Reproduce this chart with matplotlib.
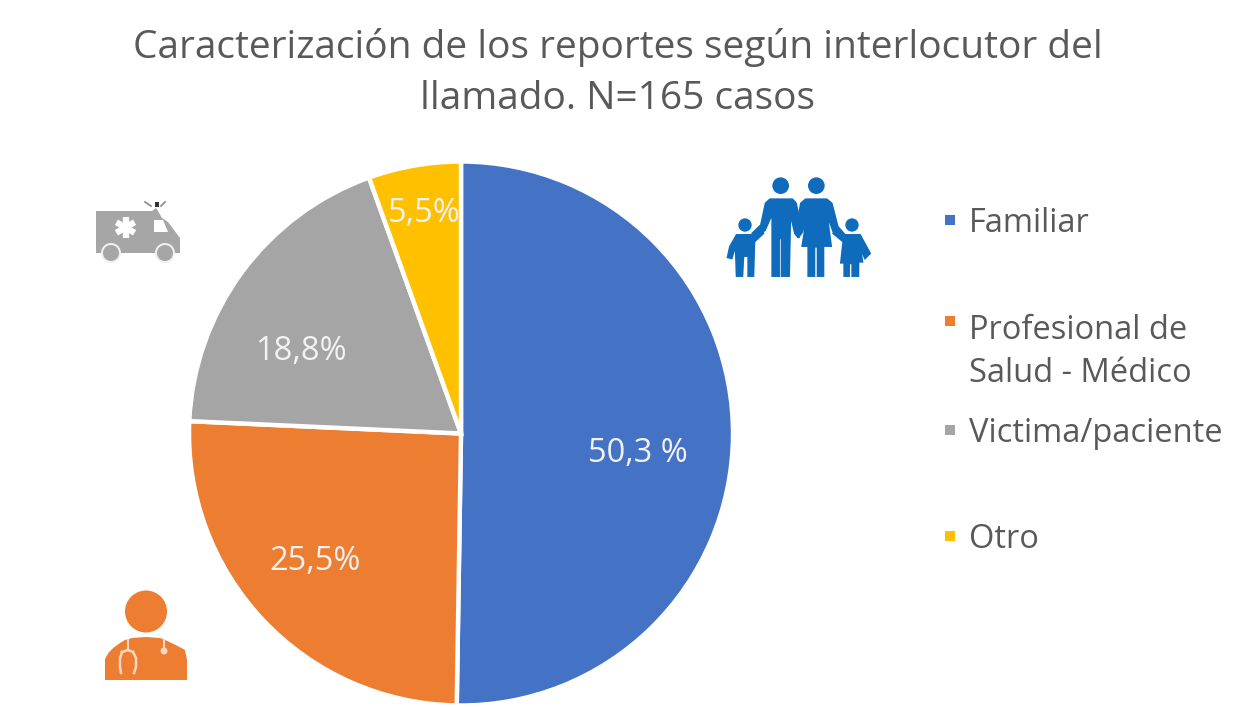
import matplotlib
matplotlib.use("Agg")
import matplotlib.pyplot as plt
from matplotlib.patches import Polygon, Circle, PathPatch, Rectangle
from matplotlib.path import Path

categories = ["Familiar", "Profesional de\nSalud - Médico", "Victima/paciente", "Otro"]
values = [50.3, 25.5, 18.8, 5.5]
value_labels = ["50,3 %", "25,5%", "18,8%", "5,5%"]
colors = ["#4472C4", "#ED7D31", "#A5A5A5", "#FFC000"]
title = "Caracterización de los reportes según interlocutor del\nllamado. N=165 casos"

W, H = 1236, 707
plt.rcParams["font.family"] = ["Open Sans", "DejaVu Sans"]
fig = plt.figure(figsize=(W / 100, H / 100), dpi=100, facecolor="white")

cx, cy, R = 461, 433.5, 272
pie_ax = fig.add_axes([(cx - R) / W, (H - cy - R) / H, 2 * R / W, 2 * R / H])
pie_ax.pie(values, colors=colors, startangle=90, counterclock=False, radius=1,
           wedgeprops=dict(edgecolor="white", linewidth=3.2))
pie_ax.set_xlim(-1, 1)
pie_ax.set_ylim(-1, 1)
pie_ax.set_aspect("equal")
pie_ax.axis("off")

ov = fig.add_axes([0, 0, 1, 1], facecolor="none")
ov.set_xlim(0, W)
ov.set_ylim(H, 0)
ov.axis("off")

GREY = "#595959"
ov.text(618, 73, title, ha="center", va="center", fontsize=28, color=GREY, linespacing=1.42)

label_pos = [(638, 454), (315, 562), (301, 351), (424, 214)]
for txt, (x, y) in zip(value_labels, label_pos):
    ov.text(x, y, txt, ha="center", va="center", fontsize=23.5, color="#F2F2F2")

legend_y = [223, 352, 433, 539]
for cat, col, y in zip(categories, colors, legend_y):
    off = 31 if "\n" in cat else 3
    ov.add_patch(Rectangle((945, y - off - 5), 10, 10, color=col, lw=0))
    ov.text(969, y, cat, ha="left", va="center", fontsize=23.5, color=GREY, linespacing=1.4)

# --- family icon ---
BLUE = "#0F6CBD"
def Z(pts, ox=715, oy=170):
    return [(ox + x / 3, oy + y / 3) for x, y in pts]
man = [(165, 88), (232, 88), (243, 100), (258, 175), (250, 203), (240, 190), (226, 130), (222, 318), (200, 318),
       (200, 205), (192, 205), (192, 318), (172, 318), (172, 130), (150, 180), (120, 205), (112, 190), (138, 165), (152, 100)]
woman = [(272, 88), (335, 88), (350, 100), (368, 170), (390, 195), (385, 208), (355, 185), (335, 130), (348, 228),
         (325, 228), (325, 318), (308, 318), (308, 230), (298, 230), (298, 318), (280, 318), (280, 228), (262, 228),
         (278, 130), (262, 185), (250, 203), (245, 170), (258, 100)]
kid1 = [(65, 195), (115, 195), (140, 180), (145, 190), (118, 215), (115, 318), (100, 318), (100, 258), (85, 258),
        (82, 318), (65, 318), (62, 225), (50, 265), (38, 262), (45, 230)]
kid2 = [(385, 195), (435, 195), (465, 250), (450, 265), (435, 230), (442, 275), (430, 275), (430, 318), (412, 318),
        (412, 280), (402, 280), (402, 318), (388, 318), (388, 278), (378, 278), (385, 215), (355, 190), (365, 180)]
for poly in (man, woman, kid1, kid2):
    ov.add_patch(Polygon(Z(poly), closed=True, facecolor=BLUE, edgecolor=BLUE, lw=1.4))
for (hx, hy, r) in [(197, 47, 25), (304, 47, 25), (90, 165, 20), (411, 165, 20)]:
    ov.add_patch(Circle((715 + hx / 3, 170 + hy / 3), r / 3, color=BLUE, lw=0))

# --- ambulance icon ---
AG = "#A6A6A6"
ov.add_patch(Polygon([(96, 211), (152, 211), (156, 208), (158, 211), (162, 218), (168, 222), (180, 238), (180, 253), (96, 253)],
                     closed=True, color=AG, lw=0))
ov.add_patch(Polygon([(154, 220), (163, 220), (168, 232), (154, 232)], closed=True, color="white", lw=0))
for i in range(3):
    ang = i * 60
    ov.plot([125.5, 125.5], [217, 238], color="white", lw=4.5, solid_capstyle="butt",
            transform=matplotlib.transforms.Affine2D().rotate_deg_around(125.5, 227.5, ang) + ov.transData)
for wx in (111, 165):
    ov.add_patch(Circle((wx, 253), 10, color="#F0F0F0", lw=0))
    ov.add_patch(Circle((wx, 253), 8, color=AG, lw=0))
ov.add_patch(Rectangle((155, 202), 3.5, 5, color="#333333", lw=0))
ov.plot([145, 151], [202, 206], color="#888888", lw=1.2)
ov.plot([165, 161], [202, 206], color="#888888", lw=1.2)

# --- doctor icon ---
OR = "#ED7D31"
ov.add_patch(Circle((146, 611.5), 21, color=OR, lw=0))
verts = [(105, 680), (105, 660), (107, 650), (125, 640), (132, 638), (146, 637), (160, 638), (167, 640),
         (185, 650), (187, 660), (187, 680), (105, 680)]
codes = [Path.MOVETO, Path.LINETO, Path.CURVE3, Path.CURVE3, Path.LINETO, Path.LINETO, Path.LINETO,
         Path.CURVE3, Path.CURVE3, Path.LINETO, Path.LINETO, Path.CLOSEPOLY]
ov.add_patch(PathPatch(Path(verts, codes), color=OR, lw=0))
LIGHT = "#F9D9C3"
ov.plot([128, 128], [640, 650], color=LIGHT, lw=1.5)
ov.plot([164, 164], [640, 648], color=LIGHT, lw=1.5)
ov.add_patch(Circle((164, 651), 3.5, color=LIGHT, lw=0))
ov.plot([121, 120, 120, 122], [673, 667, 658, 652], color=LIGHT, lw=1.8)
ov.plot([134, 136, 136, 133], [673, 667, 658, 652], color=LIGHT, lw=1.8)
ov.plot([122, 128, 133], [652, 650, 652], color=LIGHT, lw=1.8)

fig.savefig("out.png", dpi=100, facecolor="white")
